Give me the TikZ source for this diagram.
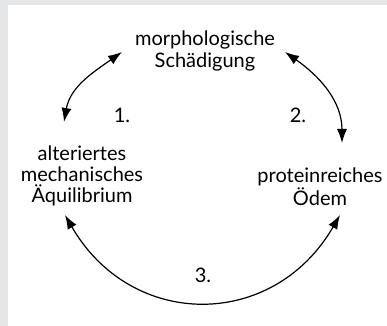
\documentclass[tikz,border=0pt]{standalone}
\usepackage{fontspec}
\setmainfont{Lato}
\usetikzlibrary{arrows.meta}

\definecolor{panelgray}{HTML}{E5E6E8}

\tikzset{
  label text/.style={align=center,font=\fontsize{10}{10.6}\selectfont,inner sep=1pt},
  num text/.style={font=\fontsize{10}{10.6}\selectfont,inner sep=1pt},
  link/.style={{Latex[length=7pt,width=5pt]}-{Latex[length=7pt,width=5pt]},line width=0.6pt}
}

\begin{document}
\begin{tikzpicture}[x=0.5pt,y=0.5pt]
  % background and panel
  \fill[panelgray] (0,0) rectangle (387,326);
  \fill[white] (8,0) rectangle (387,321);
  \useasboundingbox (0,0) rectangle (387,326);

  % the three states
  \node[label text] (morph) at (205,275) {morphologische\\Schädigung};
  \node[label text] (alt) at (82,150) {alteriertes\\mechanisches\\Äquilibrium};
  \node[label text] (oedem) at (320,139) {proteinreiches\\Ödem};

  % numbers
  \node[num text] (n1) at (122,211) {1.};
  \node[num text] (n2) at (298,211) {2.};
  \node[num text] (n3) at (203,51) {3.};

  % arrows
  \draw[link] ([shift={(-18,54)}]alt.center) to[out=80,in=215] ([shift={(-83,-1)}]morph.center);
  \draw[link] ([shift={(80,-1)}]morph.center) to[out=-35,in=90] ([shift={(22,44)}]oedem.center);
  \draw[link] ([shift={(-17,-39)}]alt.center) to[out=-60,in=-120,looseness=1.24] ([shift={(20,-28)}]oedem.center);
\end{tikzpicture}
\end{document}
